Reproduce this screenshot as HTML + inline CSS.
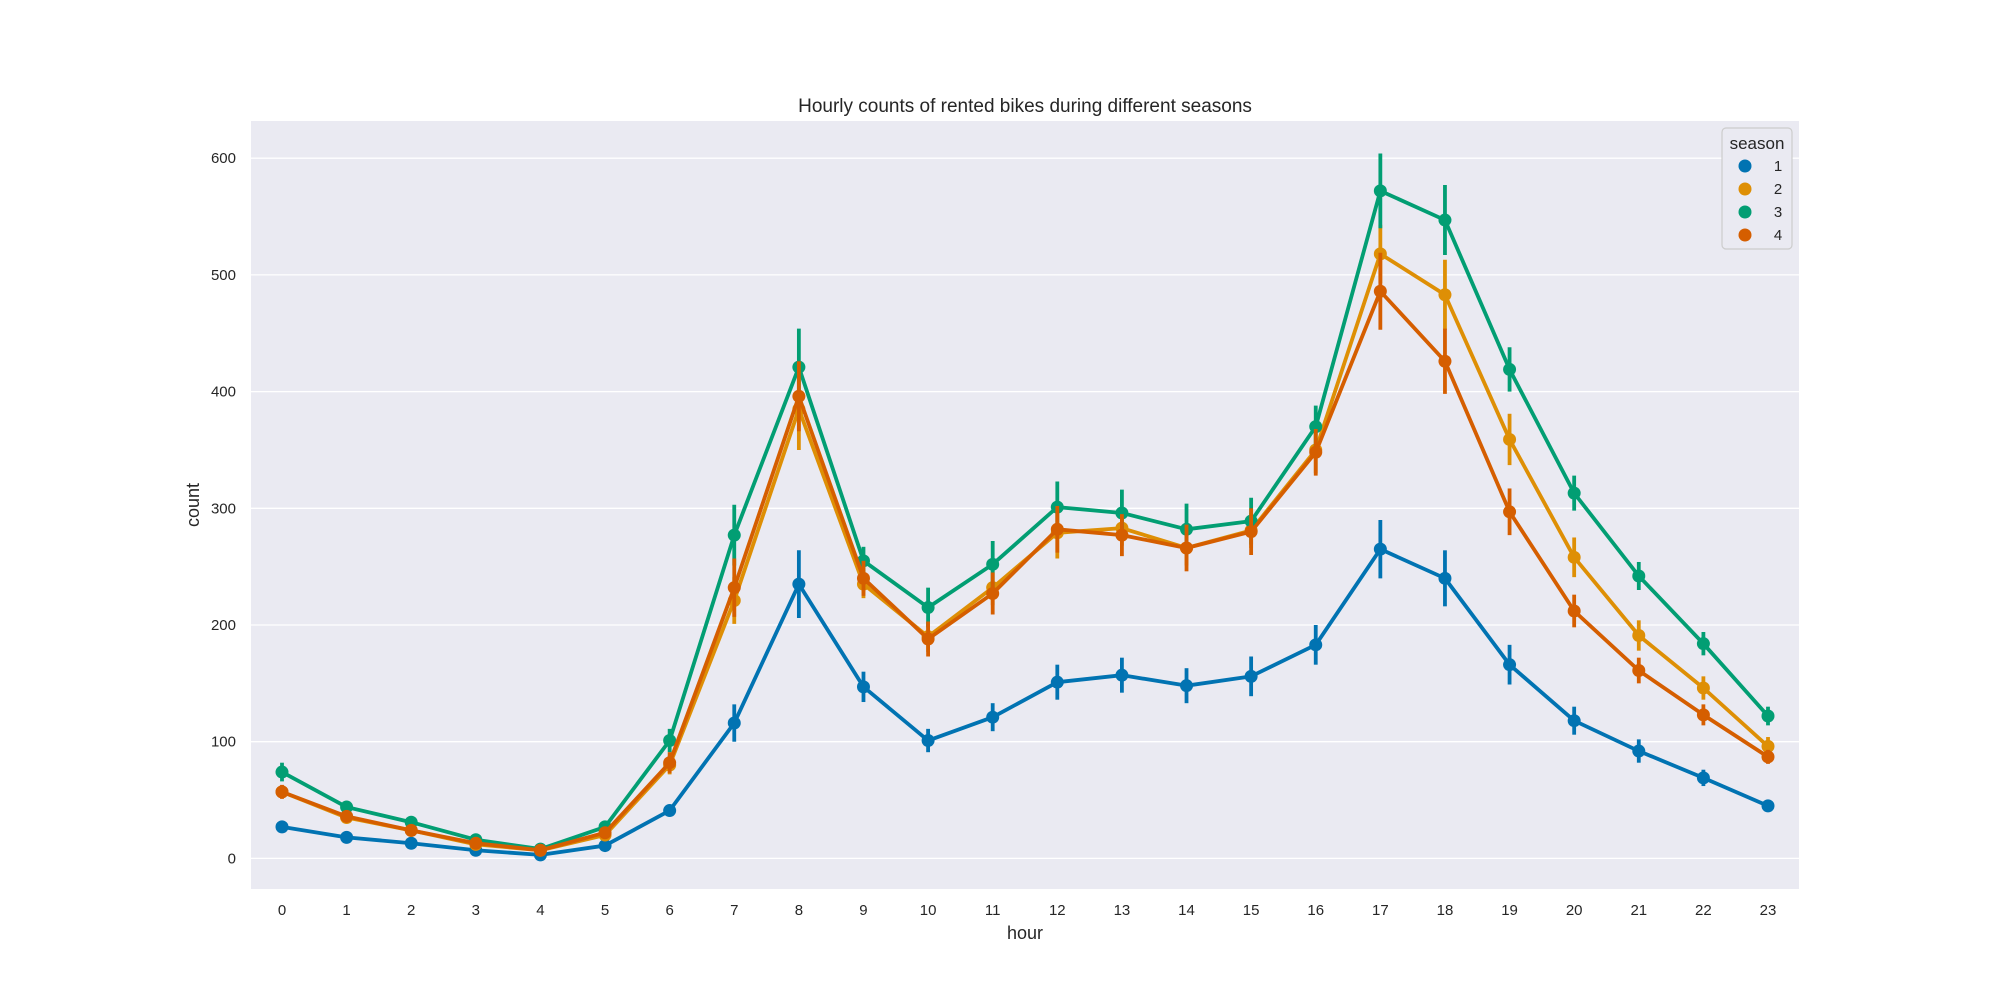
<!DOCTYPE html>
<html><head><meta charset="utf-8"><style>
body{margin:0;background:#fff;}
svg{display:block;font-family:"Liberation Sans","DejaVu Sans",sans-serif;}
</style></head><body>
<svg id="chart" width="2000" height="1000" viewBox="0 0 2000 1000">
<rect x="251" y="121" width="1548" height="768" fill="#eaeaf2"/>
<g id="grid"></g>
<g id="series"></g>
<text x="1025" y="112" text-anchor="middle" font-size="19" fill="#262626">Hourly counts of rented bikes during different seasons</text>
<text x="1025" y="939" text-anchor="middle" font-size="18" fill="#262626">hour</text>
<text x="0" y="0" transform="translate(199,505) rotate(-90)" text-anchor="middle" font-size="18" fill="#262626">count</text>
<g id="legend">
<rect x="1722" y="128" width="70" height="121" rx="4" fill="#eaeaf2" stroke="#cccccc" stroke-width="1.2"/>
<text x="1757" y="149" text-anchor="middle" font-size="17" fill="#262626">season</text>
</g>
</svg>
<script>
const hours = [0,1,2,3,4,5,6,7,8,9,10,11,12,13,14,15,16,17,18,19,20,21,22,23];
const seasons = ["1","2","3","4"];
const colors = ["#0173b2","#de8f05","#029e73","#d55e00"];
const yTicks = [0,100,200,300,400,500,600];
const s1 = [27,18,13,7,3,11,41,116,235,147,101,121,151,157,148,156,183,265,240,166,118,92,69,45];
const s2 = [57,35,24,12,7,20,80,221,385,235,190,232,279,283,266,281,350,518,483,359,258,191,146,96];
const s3 = [74,44,31,16,8,27,101,277,421,255,215,252,301,296,282,289,370,572,547,419,313,242,184,122];
const s4 = [57,36,24,13,7,22,82,232,396,240,188,227,282,277,266,280,348,486,426,297,212,161,123,87];
const e1 = [3,2,2,2,2,3,5,16,29,13,10,12,15,15,15,17,17,25,24,17,12,10,7,4];
const e2 = [5,4,3,2,2,4,8,20,35,12,13,15,22,15,15,15,20,25,30,22,17,13,10,8];
const e3 = [8,5,4,3,2,4,10,26,33,12,17,20,22,20,22,20,18,32,30,19,15,12,10,8];
const e4 = [6,4,3,2,2,4,9,25,30,15,15,18,20,18,20,20,20,33,28,20,14,11,9,6];
const values = [s1,s2,s3,s4];
const errs = [e1,e2,e3,e4];
const NS="http://www.w3.org/2000/svg";
const xS = h => 282 + h*(1768-282)/23;
const yS = v => 858.4 - v*(858.4-158.2)/600;
function mk(tag, attrs, parent){const e=document.createElementNS(NS,tag);for(const k in attrs)e.setAttribute(k,attrs[k]);parent.appendChild(e);return e;}
const grid=document.getElementById('grid');
yTicks.forEach(t=>{
  const l=mk('line',{x1:251,x2:1799,y1:yS(t),y2:yS(t),stroke:'#fff','stroke-width':1.3},grid);
  
  
  const tx=mk('text',{x:236,y:yS(t)+5,'text-anchor':'end','font-size':15,fill:'#262626'},grid);
  tx.textContent=t;
  
  
});
hours.forEach(h=>{
  const tx=mk('text',{x:xS(h),y:915,'text-anchor':'middle','font-size':15,fill:'#262626'},grid);
  tx.textContent=h;
  
  
});
const sg=document.getElementById('series');
values.forEach((vals,si)=>{
  const g=mk('g',{},sg);
  
  
  const c=colors[si];
  const pts=vals.map((v,i)=>xS(hours[i])+','+yS(v)).join(' ');
  const pl=mk('polyline',{points:pts,fill:'none',stroke:c,'stroke-width':3.8,'stroke-linejoin':'round'},g);
  
  
  vals.forEach((v,i)=>{
    const eb=mk('line',{x1:xS(hours[i]),x2:xS(hours[i]),y1:yS(v-errs[si][i]),y2:yS(v+errs[si][i]),stroke:c,'stroke-width':3.8},g);
    
    
    const p=mk('circle',{cx:xS(hours[i]),cy:yS(v),r:6.5,fill:c},g);
    
    
  });
});
const lg=document.getElementById('legend');
seasons.forEach((s,i)=>{
  const y=166+i*23;
  const m=mk('circle',{cx:1745,cy:y,r:6.5,fill:colors[i]},lg);
  
  
  const t=mk('text',{x:1778,y:y+5,'text-anchor':'middle','font-size':15,fill:'#262626'},lg);
  t.textContent=s;
  
  
});
</script>
</body></html>
